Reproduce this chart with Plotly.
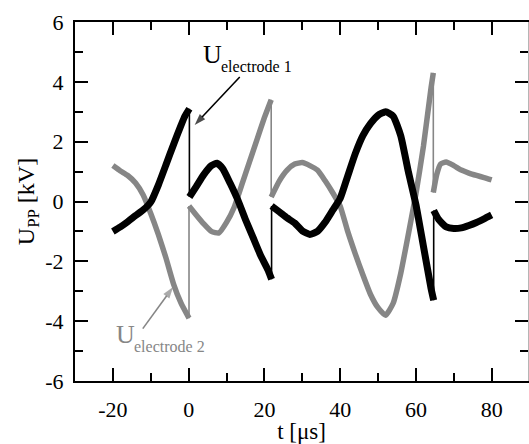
import plotly.graph_objects as go

# ---- data (t in µs, U in kV) ----
# electrode 1 (black), segments separated by the fast jumps
e1_t1 = [-20, -18, -16, -14, -12, -10, -8, -6, -4, -2, -1, 0.2]
e1_u1 = [-1.0, -0.85, -0.67, -0.47, -0.28, -0.02, 0.55, 1.22, 1.9, 2.55, 2.85, 3.1]
e1_t2 = [0.2, 2, 4, 6, 7.5, 9, 11, 13, 15, 17, 19, 21, 21.9]
e1_u2 = [0.15, 0.5, 0.9, 1.2, 1.28, 1.1, 0.6, 0.05, -0.6, -1.2, -1.8, -2.3, -2.6]
e1_t3 = [21.9, 24, 26, 28, 30, 32, 34, 36, 38, 40, 42, 44, 46, 48, 50, 52, 54, 56, 58, 60, 62, 64, 64.7]
e1_u3 = [-0.15, -0.35, -0.55, -0.72, -0.98, -1.1, -1.0, -0.7, -0.3, 0.1, 0.85, 1.6, 2.2, 2.6, 2.88, 3.0, 2.85, 2.2, 1.0, -0.1, -1.5, -2.9, -3.3]
e1_t4 = [64.7, 66, 68, 70, 72, 74, 76, 78, 80]
e1_u4 = [-0.3, -0.6, -0.85, -0.9, -0.88, -0.8, -0.7, -0.58, -0.45]

# electrode 2 (grey)
e2_t1 = [-20, -18, -16, -14, -12, -10, -8, -6, -4, -2, 0.1]
e2_u1 = [1.2, 1.02, 0.86, 0.62, 0.22, -0.4, -1.1, -1.88, -2.75, -3.4, -3.9]
e2_t2 = [0.1, 2, 4, 6, 8, 10, 12, 14, 16, 18, 20, 21.8]
e2_u2 = [-0.15, -0.45, -0.75, -1.0, -1.05, -0.7, -0.2, 0.55, 1.3, 2.05, 2.8, 3.4]
e2_t3 = [21.8, 24, 26, 28, 30, 32, 34, 36, 38, 40, 42, 44, 46, 48, 50, 52, 54, 56, 58, 60, 62, 64, 64.6]
e2_u3 = [0.15, 0.7, 1.05, 1.25, 1.3, 1.2, 1.05, 0.7, 0.3, -0.15, -1.0, -1.75, -2.45, -3.1, -3.55, -3.8, -3.4, -2.4, -1.1, 0.25, 1.85, 3.8, 4.3]
e2_t4 = [64.6, 65.5, 66.5, 68, 70, 72, 74, 76, 78, 80]
e2_u4 = [0.3, 0.9, 1.25, 1.32, 1.2, 1.05, 0.95, 0.87, 0.8, 0.72]

# label pointer arrows (tail -> head)
arrow1_t = [13.5, 1.6]
arrow1_u = [4.16, 2.56]
arrow2_t = [-12.1, -4.1]
arrow2_u = [-4.25, -2.86]

x_ticks = [-20, 0, 20, 40, 60, 80]
x_labels = ["-20", "0", "20", "40", "60", "80"]
y_ticks = [-6, -4, -2, 0, 2, 4, 6]
y_labels = ["-6", "-4", "-2", "0", "2", "4", "6"]

BLACK = "#000000"
GREY = "#868686"
FONT = "Liberation Serif"


def join(segs):
    xs, ys = [], []
    for t, u in segs:
        xs += list(t) + [None]
        ys += list(u) + [None]
    return xs, ys


def jumps(segs):
    xs, ys = [], []
    for (ta, ua), (tb, ub) in zip(segs[:-1], segs[1:]):
        xs += [ta[-1], tb[0], None]
        ys += [ua[-1], ub[0], None]
    return xs, ys


e1 = [(e1_t1, e1_u1), (e1_t2, e1_u2), (e1_t3, e1_u3), (e1_t4, e1_u4)]
e2 = [(e2_t1, e2_u1), (e2_t2, e2_u2), (e2_t3, e2_u3), (e2_t4, e2_u4)]

fig = go.Figure()
for segs, col, w in [(e2, GREY, 5.5), (e1, BLACK, 7)]:
    xs, ys = join(segs)
    fig.add_trace(go.Scatter(x=xs, y=ys, mode="lines",
                             line=dict(color=col, width=w, shape="spline", smoothing=0.5),
                             showlegend=False, hoverinfo="skip"))
    jx, jy = jumps(segs)
    fig.add_trace(go.Scatter(x=jx, y=jy, mode="lines",
                             line=dict(color=col, width=1.6),
                             showlegend=False, hoverinfo="skip"))

for at, au, col in [(arrow1_t, arrow1_u, BLACK), (arrow2_t, arrow2_u, GREY)]:
    fig.add_trace(go.Scatter(x=at, y=au, mode="lines+markers",
                             line=dict(color=col, width=1.6),
                             marker=dict(symbol="arrow", angleref="previous", size=[0, 12], color=col,
                                         line=dict(width=0)),
                             showlegend=False, hoverinfo="skip"))

# invisible trace to create right-hand axis
fig.add_trace(go.Scatter(x=[], y=[], yaxis="y2", showlegend=False, hoverinfo="skip"))

tickfont = dict(family=FONT, size=22, color="black")
fig.update_layout(
    width=529, height=444,
    margin=dict(l=75, r=1, t=22, b=63, autoexpand=False),
    paper_bgcolor="white", plot_bgcolor="white",
    xaxis=dict(range=[-30, 89.6], tickvals=x_ticks, ticktext=x_labels,
               ticks="inside", ticklen=13, tickwidth=2, tickcolor="black",
               minor=dict(dtick=10, tick0=0, ticks="inside", ticklen=8, tickwidth=2, tickcolor="black"),
               showline=True, linewidth=2, linecolor="black", mirror="ticks",
               showgrid=False, zeroline=False, tickfont=tickfont, ticklabelstandoff=8,
               title=dict(text="t [μs]", font=dict(family=FONT, size=23, color="black"), standoff=1)),
    yaxis=dict(range=[-6, 6], tickvals=y_ticks, ticktext=y_labels,
               ticks="inside", ticklen=13, tickwidth=2, tickcolor="black",
               minor=dict(dtick=1, tick0=0, ticks="inside", ticklen=8, tickwidth=2, tickcolor="black"),
               showline=True, linewidth=2, linecolor="black",
               showgrid=False, zeroline=False, tickfont=tickfont, ticklabelstandoff=5,
               title=dict(text="U<sub>PP</sub> [kV]", font=dict(family=FONT, size=24, color="black"), standoff=4)),
    yaxis2=dict(range=[-6, 6], overlaying="y", side="right", tickvals=y_ticks,
                showticklabels=False, ticks="inside", ticklen=13, tickwidth=2, tickcolor="black",
                minor=dict(dtick=1, tick0=0, ticks="inside", ticklen=8, tickwidth=2, tickcolor="black"),
                showline=True, linewidth=1, linecolor="#b5b5b5",
                showgrid=False, zeroline=False),
)

ann = []
# electrode 1 label
ann.append(dict(text="U", x=3.3, y=4.93, xref="x", yref="y", showarrow=False, xanchor="left",
                yanchor="middle", font=dict(family=FONT, size=26, color="black")))
ann.append(dict(text="electrode 1", x=8.0, y=4.5, xref="x", yref="y", showarrow=False, xanchor="left",
                yanchor="middle", font=dict(family=FONT, size=16, color="black")))
# electrode 2 label
ann.append(dict(text="U", x=-19.8, y=-4.45, xref="x", yref="y", showarrow=False, xanchor="left",
                yanchor="middle", font=dict(family=FONT, size=26, color=GREY)))
ann.append(dict(text="electrode 2", x=-15.0, y=-4.86, xref="x", yref="y", showarrow=False, xanchor="left",
                yanchor="middle", font=dict(family=FONT, size=16, color=GREY)))
fig.update_layout(annotations=ann)

fig.write_html("out.html", config={"displayModeBar": False},
               post_script="document.body.style.margin='0px';document.body.style.padding='0px';")
